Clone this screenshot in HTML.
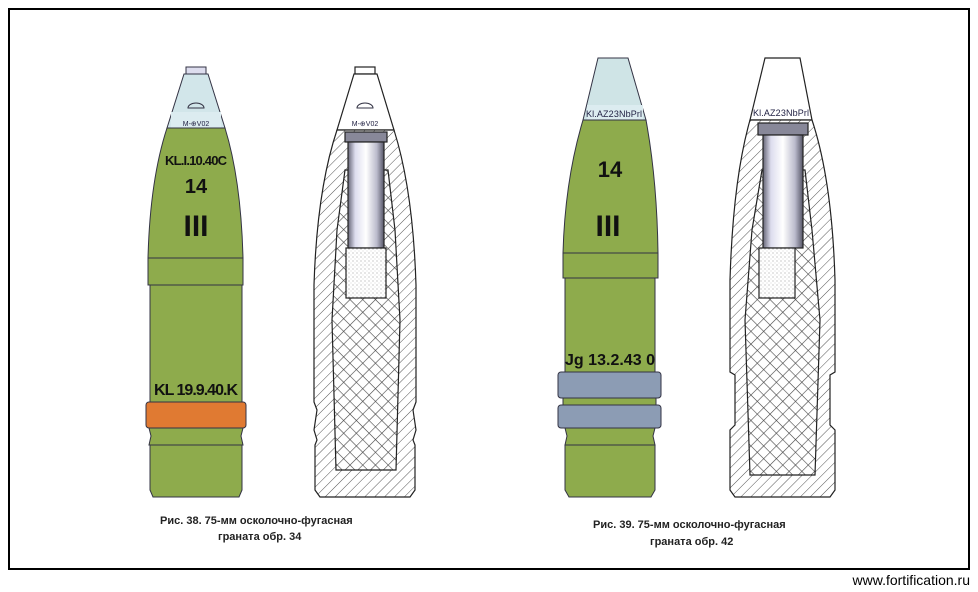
<!DOCTYPE html>
<html><head><meta charset="utf-8"><style>
html,body{margin:0;padding:0;background:#fff;}
svg{display:block}
text{font-family:"Liberation Sans","DejaVu Sans",sans-serif;}
</style></head><body>
<svg width="978" height="592" viewBox="0 0 978 592" xmlns="http://www.w3.org/2000/svg">
<defs>
<pattern id="h" width="7" height="7" patternUnits="userSpaceOnUse" patternTransform="rotate(45)">
<rect width="7" height="7" fill="#fff"/><line x1="0" y1="0" x2="0" y2="7" stroke="#555" stroke-width="1"/></pattern>
<pattern id="x" width="9" height="9" patternUnits="userSpaceOnUse" patternTransform="rotate(45)">
<rect width="9" height="9" fill="#fff"/><line x1="0" y1="0" x2="0" y2="9" stroke="#444" stroke-width="1.2"/><line x1="0" y1="0" x2="9" y2="0" stroke="#444" stroke-width="1.2"/></pattern>
<pattern id="d" width="4" height="4" patternUnits="userSpaceOnUse"><rect width="4" height="4" fill="#fff"/><circle cx="1" cy="1" r="0.5" fill="#777"/><circle cx="3" cy="3" r="0.4" fill="#999"/></pattern>
<linearGradient id="tube" x1="0" x2="1"><stop offset="0" stop-color="#667"/><stop offset="0.2" stop-color="#dde"/><stop offset="0.5" stop-color="#fff"/><stop offset="0.8" stop-color="#bbc"/><stop offset="1" stop-color="#556"/></linearGradient>
</defs>
<rect x="9" y="9" width="960" height="560" fill="#fff" stroke="#000" stroke-width="2"/>

<!-- Shell 1 -->
<g stroke="#334" stroke-width="1">
<rect x="186" y="67" width="20" height="7" fill="#dde"/>
<path d="M184,74 L208,74 L225,128 L167,128 Z" fill="#d2e6ea"/>
<rect x="171" y="112" width="50" height="16" fill="#dcecf0" stroke="none"/>
<path d="M167,128 L225,128 Q241,180 243,258 L148,258 Q150,180 167,128 Z" fill="#8eab4c"/>
<rect x="148" y="258" width="95" height="27" fill="#8eab4c"/>
<rect x="150" y="285" width="92" height="117" fill="#8eab4c"/>
<rect x="146" y="402" width="100" height="26" rx="3" fill="#e07a32"/>
<path d="M149,428 L243,428 L241,436 L243,445 L149,445 L151,436 Z" fill="#8eab4c"/>
<path d="M150,445 L242,445 L242,490 L239,497 L153,497 L150,490 Z" fill="#8eab4c"/>
</g>
<path d="M188,108 a8,5 0 0 1 16,0 Z" fill="none" stroke="#334"/>
<text x="196" y="126" font-size="7" text-anchor="middle" fill="#224">M-⊕V02</text>
<text x="196" y="165" font-size="13" font-weight="bold" text-anchor="middle" fill="#111" textLength="62">KL.I.10.40C</text>
<text x="196" y="193" font-size="20" font-weight="bold" text-anchor="middle" fill="#111">14</text>
<text x="196" y="236" font-size="30" font-weight="bold" text-anchor="middle" fill="#111" font-family="Liberation Serif">III</text>
<text x="196" y="395" font-size="16" font-weight="bold" text-anchor="middle" fill="#111" textLength="84">KL 19.9.40.K</text>

<!-- Shell 2 cutaway -->
<g stroke="#222" stroke-width="1.2">
<rect x="355" y="67" width="20" height="7" fill="#fff"/>
<path d="M354,74 L377,74 L394,130 L337,130 Z" fill="#fff"/>
<path d="M337,130 L394,130 Q413,190 416,285 L416,402 L413,410 L416,430 L413,440 L415,445 L415,490 L410,497 L320,497 L315,490 L315,445 L317,440 L314,430 L317,410 L314,402 L314,285 Q317,190 337,130 Z" fill="url(#h)"/>
<path d="M345,170 L388,170 L395,230 L400,320 L396,470 L336,470 L332,320 L337,230 Z" fill="url(#x)"/>
<rect x="345" y="132" width="42" height="10" fill="#889"/>
<rect x="348" y="142" width="36" height="106" fill="url(#tube)"/>
<rect x="346" y="248" width="40" height="50" fill="url(#d)"/>
</g>
<path d="M357,108 a8,5 0 0 1 16,0 Z" fill="none" stroke="#334"/>
<text x="365" y="126" font-size="7" text-anchor="middle" fill="#224">M-⊕V02</text>

<!-- Shell 3 -->
<g stroke="#334" stroke-width="1">
<path d="M598,58 L628,58 L646,120 L583,120 Z" fill="#cfe4e6"/>
<rect x="587" y="105" width="56" height="15" fill="#dcecf0" stroke="none"/>
<path d="M583,120 L646,120 Q657,180 658,253 L563,253 Q565,180 583,120 Z" fill="#8eab4c"/>
<rect x="563" y="253" width="95" height="25" fill="#8eab4c"/>
<rect x="565" y="278" width="90" height="94" fill="#8eab4c"/>
<rect x="558" y="372" width="103" height="26" rx="3" fill="#8c9cb4"/>
<rect x="563" y="398" width="93" height="7" fill="#8eab4c"/>
<rect x="558" y="405" width="103" height="23" rx="3" fill="#8c9cb4"/>
<path d="M565,428 L655,428 L653,436 L655,445 L565,445 L567,436 Z" fill="#8eab4c"/>
<path d="M565,445 L655,445 L655,490 L651,497 L569,497 L565,490 Z" fill="#8eab4c"/>
</g>
<text x="614" y="117" font-size="9" text-anchor="middle" fill="#224" textLength="56">Kl.AZ23NbPrl</text>
<text x="610" y="177" font-size="22" font-weight="bold" text-anchor="middle" fill="#111">14</text>
<text x="608" y="236" font-size="30" font-weight="bold" text-anchor="middle" fill="#111" font-family="Liberation Serif">III</text>
<text x="610" y="365" font-size="16" font-weight="bold" text-anchor="middle" fill="#111" textLength="90">Jg 13.2.43 0</text>

<!-- Shell 4 cutaway -->
<g stroke="#222" stroke-width="1.2">
<path d="M765,58 L800,58 L812,120 L750,120 Z" fill="#fff"/>
<path d="M750,120 L812,120 Q832,180 835,280 L835,372 L830,375 L830,425 L835,430 L835,490 L830,497 L735,497 L730,490 L730,430 L735,425 L735,375 L730,372 L730,280 Q733,180 750,120 Z" fill="url(#h)"/>
<path d="M762,170 L805,170 L812,230 L820,320 L815,475 L750,475 L745,320 L752,230 Z" fill="url(#x)"/>
<rect x="758" y="123" width="50" height="12" fill="#889"/>
<rect x="763" y="135" width="40" height="113" fill="url(#tube)"/>
<rect x="759" y="248" width="36" height="50" fill="url(#d)"/>
</g>
<text x="781" y="116" font-size="9" text-anchor="middle" fill="#224" textLength="56">Kl.AZ23NbPrl</text>

<!-- captions -->
<text x="160" y="524" font-size="11" font-weight="bold" fill="#222">Рис. 38. 75-мм осколочно-фугасная</text>
<text x="218" y="540" font-size="11" font-weight="bold" fill="#222">граната обр. 34</text>
<text x="593" y="528" font-size="11" font-weight="bold" fill="#222">Рис. 39. 75-мм осколочно-фугасная</text>
<text x="650" y="545" font-size="11" font-weight="bold" fill="#222">граната обр. 42</text>
<text x="970" y="585" font-size="14" text-anchor="end" fill="#000">www.fortification.ru</text>
</svg>
</body></html>
